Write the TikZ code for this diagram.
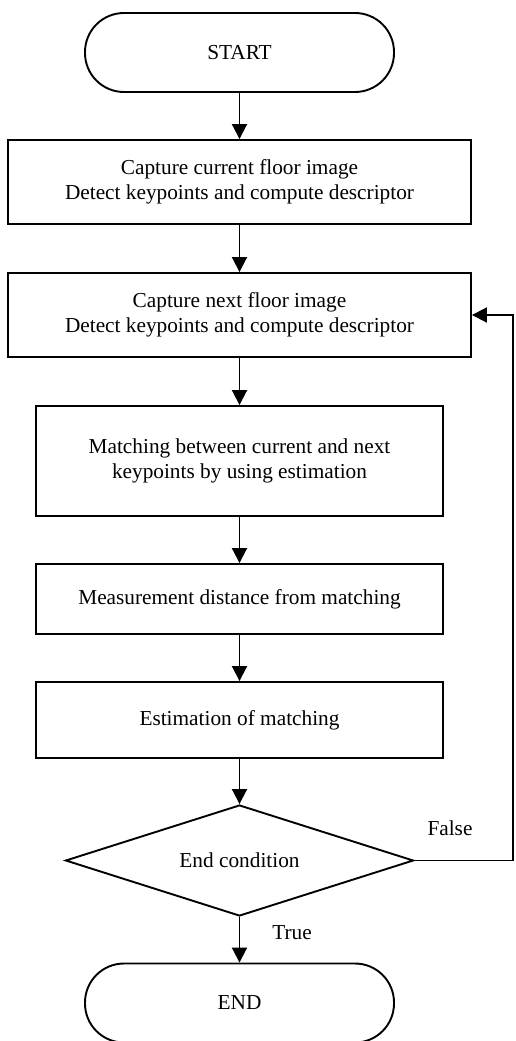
\documentclass[tikz,border=0pt]{standalone}
\usepackage{fontspec}
\setmainfont{Liberation Serif}
\usetikzlibrary{shapes.geometric,arrows.meta}
\begin{document}
\begin{tikzpicture}[x=1pt,y=-1pt,
  every node/.style={font=\fontsize{21.3}{25}\selectfont},
  base/.style={draw=black,line width=1.9pt,inner sep=0pt,align=center},
  procbox/.style={base,rectangle},
  term/.style={base,rectangle,rounded corners=39pt,minimum width=309pt,minimum height=79pt},
  decide/.style={base,diamond,minimum width=348pt,minimum height=111pt,aspect=3.135},
  lbl/.style={inner sep=0pt},
  arr/.style={line width=1.9pt,-{Triangle[length=15pt,width=15pt]}}
]
\useasboundingbox (0,0) rectangle (515,1041);
\node[term] (start) at (239.5,52.5) {START};
\node[procbox,minimum width=463pt,minimum height=84pt] (b1) at (239.5,182)
  {Capture current floor image\\Detect keypoints and compute descriptor};
\node[procbox,minimum width=463pt,minimum height=84pt] (b2) at (239.5,315)
  {Capture next floor image\\Detect keypoints and compute descriptor};
\node[procbox,minimum width=407pt,minimum height=110pt] (b3) at (239.5,461)
  {Matching between current and next\\keypoints by using estimation};
\node[procbox,minimum width=407pt,minimum height=70pt] (b4) at (239.5,599)
  {Measurement distance from matching};
\node[procbox,minimum width=407pt,minimum height=76pt] (b5) at (239.5,720)
  {Estimation of matching};
\node[decide] (dia) at (239.5,860.5) {End condition};
\node[term] (end) at (239.5,1003) {END};
\coordinate (fb) at (513,860.5);
\node[lbl] (lfalse) at (450,828) {False};
\node[lbl] (ltrue) at (292,933) {True};
\draw[arr] (start) -- (b1);
\draw[arr] (b1) -- (b2);
\draw[arr] (b2) -- (b3);
\draw[arr] (b3) -- (b4);
\draw[arr] (b4) -- (b5);
\draw[arr] (b5) -- (dia);
\draw[arr] (dia) -- (end);
\draw[arr] (dia.east) -- (fb) -- (fb |- b2.east) -- (b2.east);
\end{tikzpicture}
\end{document}
